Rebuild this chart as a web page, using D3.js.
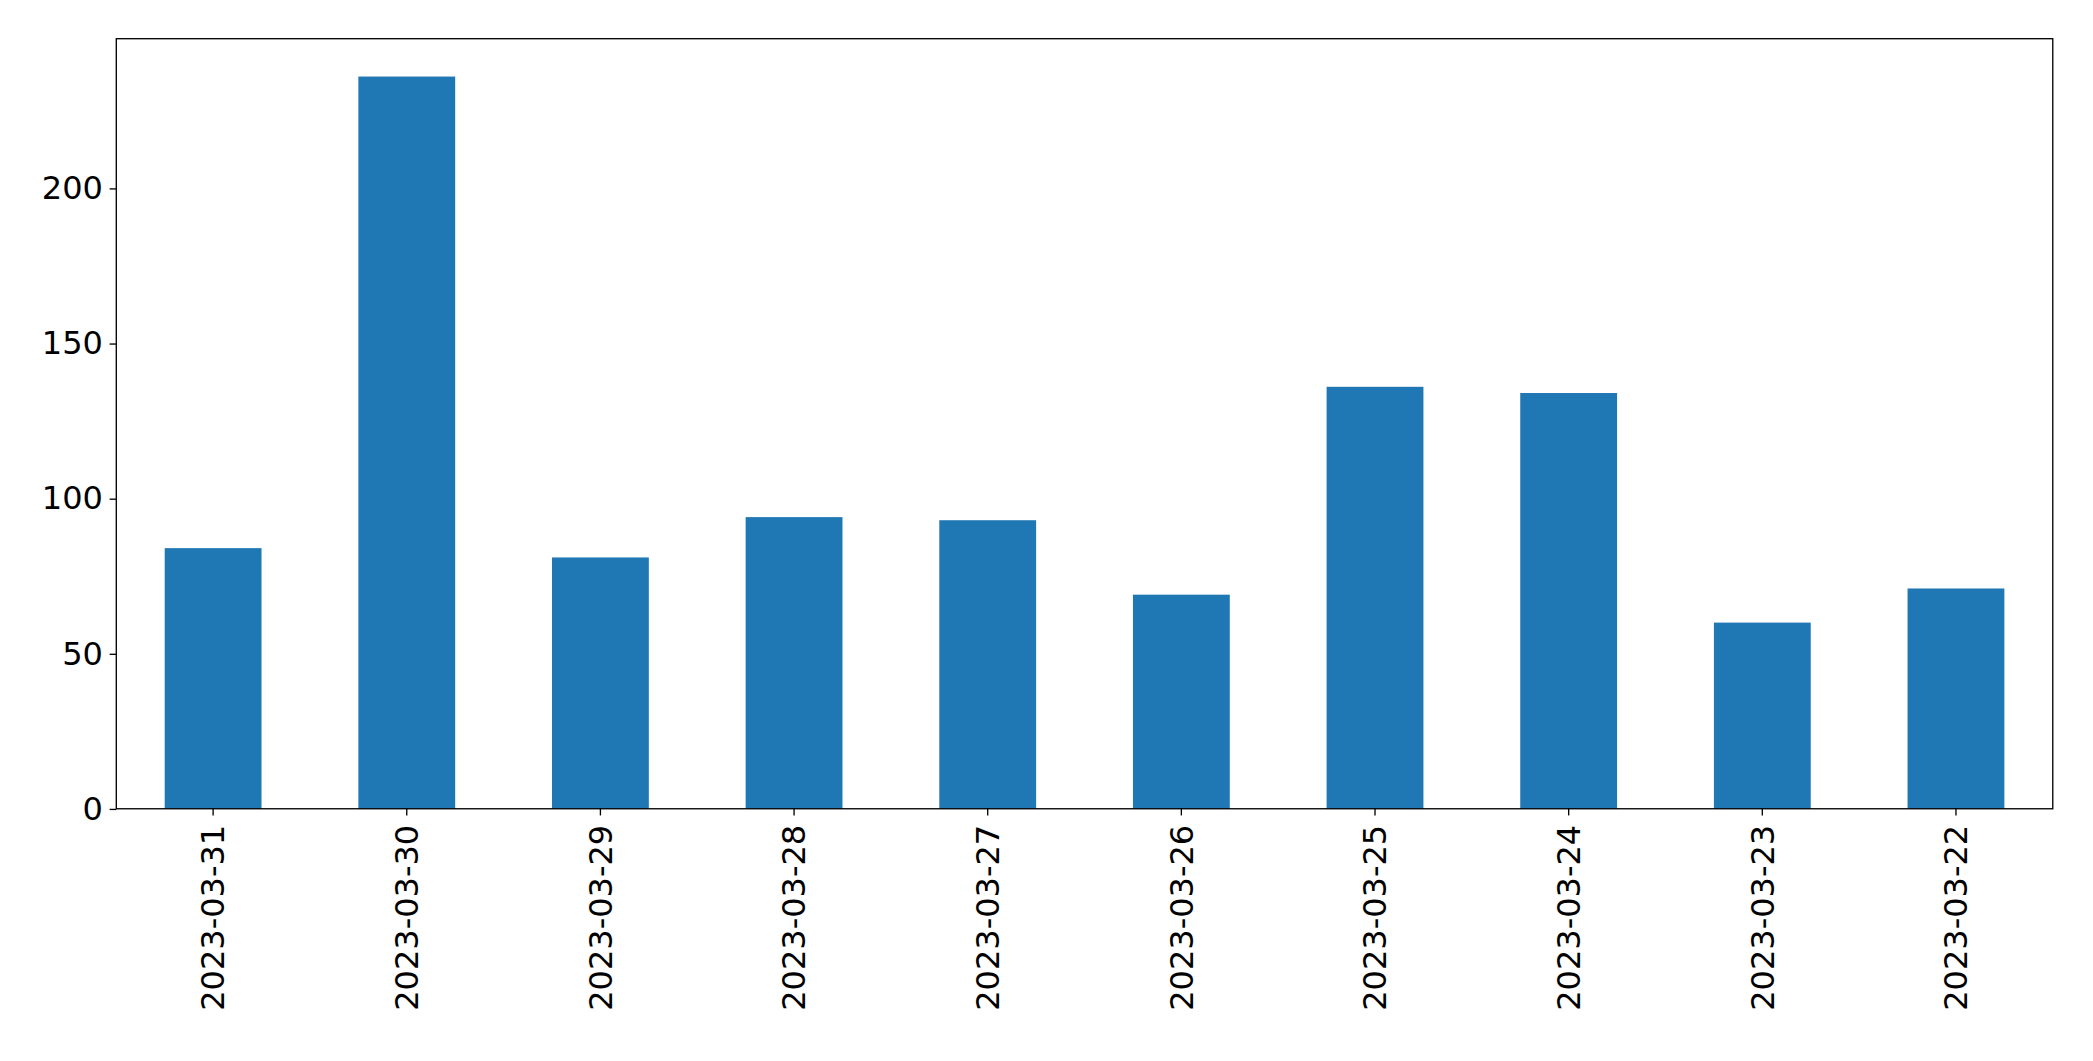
<!DOCTYPE html>
<html><head><meta charset="utf-8">
<script src="https://cdn.jsdelivr.net/npm/d3@7"></script>
<style>body{margin:0;background:#fff}svg{display:block}</style></head>
<body><svg id="c" width="2093" height="1061" viewBox="0 0 1568 795"></svg>
<script>
const categories=["2023-03-31","2023-03-30","2023-03-29","2023-03-28","2023-03-27","2023-03-26","2023-03-25","2023-03-24","2023-03-23","2023-03-22"];
const values=[84,236,81,94,93,69,136,134,60,71];
const yTicks=[0,50,100,150,200];
const svg=d3.select("#c");
const L=87,R=1538,T=29,B=606;
const x=d3.scaleBand().domain(categories).range([L,R]).paddingInner(0.5).paddingOuter(0.25);
const y=d3.scaleLinear().domain([0,248.2]).range([B,T]);
svg.selectAll("rect.bar").data(values).join("rect").attr("class","bar")
 .attr("x",(d,i)=>x(categories[i])).attr("width",x.bandwidth())
 .attr("y",d=>y(d)).attr("height",d=>B-y(d)).attr("fill","#1f77b4");
const font="DejaVu Sans, sans-serif";
const ya=svg.append("g").attr("transform",`translate(${L},0)`).call(d3.axisLeft(y).tickValues(yTicks).tickSize(5).tickPadding(5));
const xa=svg.append("g").attr("transform",`translate(0,${B})`).call(d3.axisBottom(x).tickSize(5).tickPadding(5));
[ya,xa].forEach(a=>{a.select(".domain").remove();a.selectAll("line").attr("stroke","#000");a.selectAll("text").attr("font-family",font).attr("font-size",24).attr("fill","#000");});
xa.selectAll("text").attr("transform","rotate(-90)").attr("text-anchor","end").attr("dy","0.35em").attr("x",-12).attr("y",0);
svg.append("rect").attr("x",L).attr("y",T).attr("width",R-L).attr("height",B-T).attr("fill","none").attr("stroke","#000").attr("stroke-width",1);
</script></body></html>
